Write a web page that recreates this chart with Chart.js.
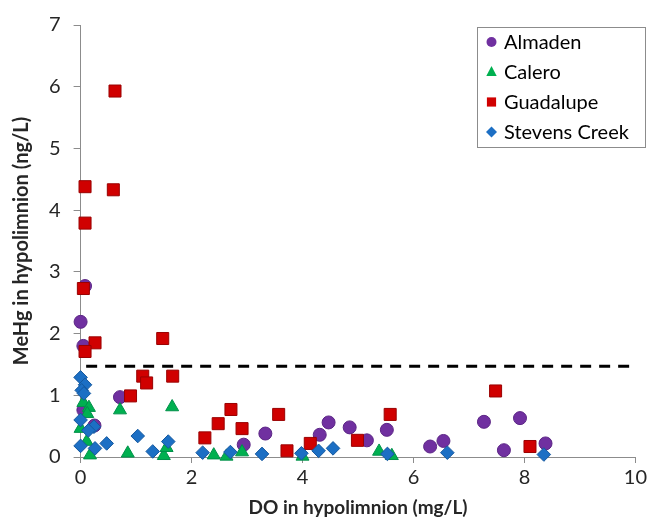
<!DOCTYPE html>
<html><head><meta charset="utf-8">
<script src="https://cdn.jsdelivr.net/npm/chart.js@4"></script>
<style>html,body{margin:0;padding:0;background:#fff}</style>
</head><body>
<canvas id="c" width="650" height="522"></canvas>
<script>
// ---- data ----
const seriesNames = ['Almaden', 'Calero', 'Guadalupe', 'Stevens Creek'];

const almadenDO   = [0.08, 0.00, 0.05, 0.71, 0.05, 0.25, 2.94, 3.33, 4.31, 4.47, 4.85, 5.16, 5.52, 6.30, 6.54, 7.27, 7.63, 7.92, 8.38];
const almadenMeHg = [2.77, 2.19, 1.80, 0.97, 0.76, 0.51, 0.20, 0.38, 0.36, 0.56, 0.48, 0.27, 0.44, 0.17, 0.26, 0.57, 0.11, 0.63, 0.22];

const caleroDO   = [0.05, 0.15, 0.12, 0.00, 0.71, 1.65, 0.11, 0.17, 0.85, 1.50, 1.55, 2.40, 2.63, 2.91, 4.00, 5.38, 5.61];
const caleroMeHg = [0.88, 0.80, 0.70, 0.46, 0.76, 0.81, 0.25, 0.03, 0.06, 0.02, 0.15, 0.03, 0.01, 0.08, 0.01, 0.09, 0.02];

const guadalupeDO   = [0.62, 0.08, 0.59, 0.08, 0.05, 0.26, 0.08, 1.48, 1.12, 1.19, 1.66, 0.90, 2.71, 2.48, 2.91, 2.24, 3.57, 3.72, 4.14, 4.99, 5.58, 7.48, 8.10];
const guadalupeMeHg = [5.93, 4.38, 4.33, 3.79, 2.73, 1.85, 1.71, 1.92, 1.31, 1.20, 1.31, 0.99, 0.77, 0.54, 0.46, 0.31, 0.69, 0.10, 0.22, 0.27, 0.69, 1.07, 0.17];

const stevensDO   = [0.00, 0.08, 0.02, 0.06, 0.00, 0.24, 0.14, 0.00, 0.26, 0.47, 1.03, 1.30, 1.58, 2.20, 2.70, 3.27, 3.98, 4.29, 4.55, 5.53, 6.61, 8.35];
const stevensMeHg = [1.29, 1.17, 1.08, 1.03, 0.60, 0.49, 0.43, 0.18, 0.14, 0.22, 0.34, 0.09, 0.25, 0.07, 0.08, 0.05, 0.06, 0.10, 0.14, 0.05, 0.07, 0.04];

const thresholdDO   = [0.1, 9.9];
const thresholdMeHg = [1.47, 1.47];

const xTicks = [0, 2, 4, 6, 8, 10];
const yTicks = [0, 1, 2, 3, 4, 5, 6, 7];

const xTitle = 'DO in hypolimnion (mg/L)';
const yTitle = 'MeHg in hypolimnion (ng/L)';

// ---- build ----
const pts = (xs, ys) => xs.map((x, i) => ({x, y: ys[i]}));
const FONT = 'Lato, "Open Sans", "Liberation Sans", sans-serif';

const styles = [
  {pointStyle: 'circle',   radius: 6.5, bg: '#7030A0', bd: '#5B2585', legR: 5},
  {pointStyle: 'triangle', radius: 7.5, bg: '#00B050', bd: '#00904A', legR: 6},
  {pointStyle: 'rect',     radius: 8.5, bg: '#D00000', bd: '#9A0000', legR: 6.5},
  {pointStyle: 'rectRot',  radius: 6.8, bg: '#1C6FC4', bd: '#15589E', legR: 5.5}
];
const seriesData = [
  pts(almadenDO, almadenMeHg),
  pts(caleroDO, caleroMeHg),
  pts(guadalupeDO, guadalupeMeHg),
  pts(stevensDO, stevensMeHg)
];

const datasets = seriesNames.map((name, i) => ({
  label: name,
  data: seriesData[i],
  pointStyle: styles[i].pointStyle,
  pointRadius: styles[i].radius,
  pointHoverRadius: styles[i].radius,
  backgroundColor: styles[i].bg,
  borderColor: styles[i].bd,
  pointBorderWidth: 1,
  clip: false,
  order: 3 - i
}));
datasets.push({
  type: 'line',
  label: 'threshold',
  isRef: true,
  data: pts(thresholdDO, thresholdMeHg),
  borderColor: '#000',
  borderWidth: 3,
  borderDash: [11, 8],
  pointRadius: 0,
  fill: false,
  order: 10
});

const legendBox = {
  id: 'legendBox',
  afterDraw(chart) {
    const ctx = chart.ctx;
    ctx.save();
    const x0 = 477, y0 = 27, w = 168, h = 120;
    ctx.fillStyle = '#fff';
    ctx.fillRect(x0, y0, w, h);
    ctx.strokeStyle = '#8c8c8c';
    ctx.lineWidth = 1;
    ctx.strokeRect(x0 + 0.5, y0 + 0.5, w, h);
    chart.data.datasets.forEach((ds, i) => {
      if (ds.isRef) return;
      const st = styles[i];
      const cx = 491.5, cy = 42 + i * 30, r = st.legR;
      ctx.fillStyle = st.bg;
      ctx.beginPath();
      if (st.pointStyle === 'circle') {
        ctx.arc(cx, cy, r, 0, Math.PI * 2);
      } else if (st.pointStyle === 'triangle') {
        ctx.moveTo(cx, cy - r);
        ctx.lineTo(cx + r * 0.866, cy + r * 0.5 + 1);
        ctx.lineTo(cx - r * 0.866, cy + r * 0.5 + 1);
        ctx.closePath();
      } else if (st.pointStyle === 'rect') {
        ctx.rect(cx - r * 0.707, cy - r * 0.707, r * 1.414, r * 1.414);
      } else {
        ctx.moveTo(cx, cy - r); ctx.lineTo(cx + r, cy); ctx.lineTo(cx, cy + r); ctx.lineTo(cx - r, cy);
        ctx.closePath();
      }
      ctx.fill();
      ctx.fillStyle = '#000';
      ctx.font = '20px ' + FONT;
      ctx.textBaseline = 'middle';
      ctx.textAlign = 'left';
      ctx.fillText(ds.label, 504, cy + 1);
    });
    ctx.restore();
  }
};

new Chart(document.getElementById('c'), {
  type: 'scatter',
  data: {datasets},
  plugins: [legendBox],
  options: {
    responsive: false,
    animation: false,
    events: [],
    layout: {padding: {left: 0, top: 22, right: 13.4, bottom: 0}},
    plugins: {legend: {display: false}, tooltip: {enabled: false}},
    scales: {
      x: {
        type: 'linear', min: 0, max: 10,
        afterBuildTicks: s => { s.ticks = xTicks.map(v => ({value: v})); },
        afterFit: s => { s.height = 65; },
        grid: {drawOnChartArea: false, drawTicks: true, tickLength: 6, color: '#8c8c8c'},
        border: {color: '#8c8c8c', width: 1},
        ticks: {font: {size: 20, family: FONT}, color: '#262626', padding: 3, maxRotation: 0},
        title: {display: true, text: xTitle, font: {size: 19, weight: 'bold', family: FONT}, color: '#262626', padding: {top: 0, bottom: 3}}
      },
      y: {
        type: 'linear', min: 0, max: 7,
        afterBuildTicks: s => { s.ticks = yTicks.map(v => ({value: v})); },
        afterFit: s => { s.width = 80.6; },
        grid: {drawOnChartArea: false, drawTicks: true, tickLength: 7, color: '#8c8c8c'},
        border: {color: '#8c8c8c', width: 1},
        ticks: {font: {size: 20, family: FONT}, color: '#262626', padding: 13},
        title: {display: true, text: yTitle, font: {size: 20, weight: 'bold', family: FONT}, color: '#262626', padding: {top: 10, bottom: 0}}
      }
    }
  }
});
</script>
</body></html>
